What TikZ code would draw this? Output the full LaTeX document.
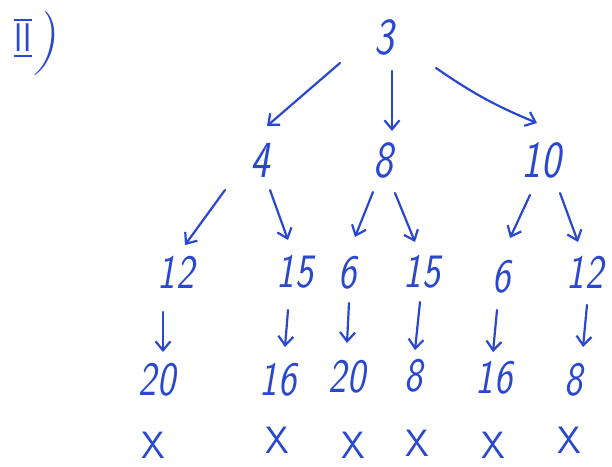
\documentclass[tikz,border=0pt]{standalone}
\usetikzlibrary{arrows.meta}
\definecolor{ink}{RGB}{42,72,205}
\newcommand\hw[1]{\scalebox{0.8}[1]{#1}}
\newcommand\barred[1]{\vbox{\hrule height 2pt\kern3pt\hbox{#1}\kern3pt\hrule height 2pt}}
\tikzset{
  num/.style={inner sep=0pt, text=ink, font=\sffamily\slshape\fontsize{52}{52}\selectfont},
  numb/.style={inner sep=0pt, text=ink, font=\sffamily\slshape\fontsize{48}{48}\selectfont},
  cross/.style={inner sep=0pt, text=ink, font=\sffamily\fontsize{38}{38}\selectfont},
  arr/.style={draw=ink, line width=2.2pt, line cap=round, line join=round, -{Straight Barb[length=9pt,width=15pt,line width=2.2pt]}}
}
\begin{document}
\begin{tikzpicture}[x=1pt,y=-1pt]
\useasboundingbox (0,0) rectangle (612,466);
% label
\node[inner sep=0pt, text=ink, font=\sffamily\fontsize{40}{40}\selectfont] (lab) at (23,38) {\barred{\hw{II}}};
\node[inner sep=0pt, text=ink, font=\rmfamily\slshape\fontsize{64}{64}\selectfont] (par) at (46,44) {)};
% row 1
\node[num] (n3) at (384,37) {\hw{3}};
% row 2
\node[num] (n4) at (260,160) {\hw{4}};
\node[num] (n8) at (383,160) {\hw{8}};
\node[num] (n10) at (541,160) {\hw{10}};
% row 3
\node[numb] (a12) at (176,272) {\hw{12}};
\node[numb] (a15) at (295,272) {\hw{15}};
\node[numb] (b6) at (348,273) {\hw{6}};
\node[numb] (b15) at (422,272) {\hw{15}};
\node[numb] (c6) at (502,277) {\hw{6}};
\node[numb] (c12) at (585,272) {\hw{12}};
% row 4
\node[numb] (d20) at (157,380) {\hw{20}};
\node[numb] (d16) at (278,380) {\hw{16}};
\node[numb] (e20) at (347,377) {\hw{20}};
\node[numb] (e8) at (414,376) {\hw{8}};
\node[numb] (f16) at (494,378) {\hw{16}};
\node[numb] (f8) at (574,380) {\hw{8}};
% row 5
\node[cross] (x1) at (153,445) {X};
\node[cross] (x2) at (277,440) {X};
\node[cross] (x3) at (353,445) {X};
\node[cross] (x4) at (417,443) {X};
\node[cross] (x5) at (493,445) {X};
\node[cross] (x6) at (569,440) {X};
% arrows level 1
\draw[arr] ([shift={(-44,26)}]n3.center) -- ([shift={(7,-34)}]n4.center);
\draw[arr] ([shift={(8,34)}]n3.center) -- ([shift={(9,-29)}]n8.center);
\draw[arr] ([shift={(52,31)}]n3.center) to[bend right=6] ([shift={(-4,-37)}]n10.center);
% arrows level 2
\draw[arr] ([shift={(-35,30)}]n4.center) -- ([shift={(9,-27)}]a12.center);
\draw[arr] ([shift={(10,30)}]n4.center) -- ([shift={(-7,-32)}]a15.center);
\draw[arr] ([shift={(-10,32)}]n8.center) -- ([shift={(7,-36)}]b6.center);
\draw[arr] ([shift={(12,33)}]n8.center) -- ([shift={(-7,-30)}]b15.center);
\draw[arr] ([shift={(-11,35)}]n10.center) -- ([shift={(8,-39)}]c6.center);
\draw[arr] ([shift={(19,33)}]n10.center) -- ([shift={(-7,-30)}]c12.center);
% arrows level 3
\draw[arr] ([shift={(-13,40)}]a12.center) -- ([shift={(6,-28)}]d20.center);
\draw[arr] ([shift={(-7,38)}]a15.center) -- ([shift={(7,-33)}]d16.center);
\draw[arr] ([shift={(1,30)}]b6.center) -- ([shift={(0,-34)}]e20.center);
\draw[arr] ([shift={(-2,30)}]b15.center) -- ([shift={(1,-26)}]e8.center);
\draw[arr] ([shift={(-5,33)}]c6.center) -- ([shift={(-1,-26)}]f16.center);
\draw[arr] ([shift={(2,33)}]c12.center) -- ([shift={(9,-33)}]f8.center);
\end{tikzpicture}
\end{document}
